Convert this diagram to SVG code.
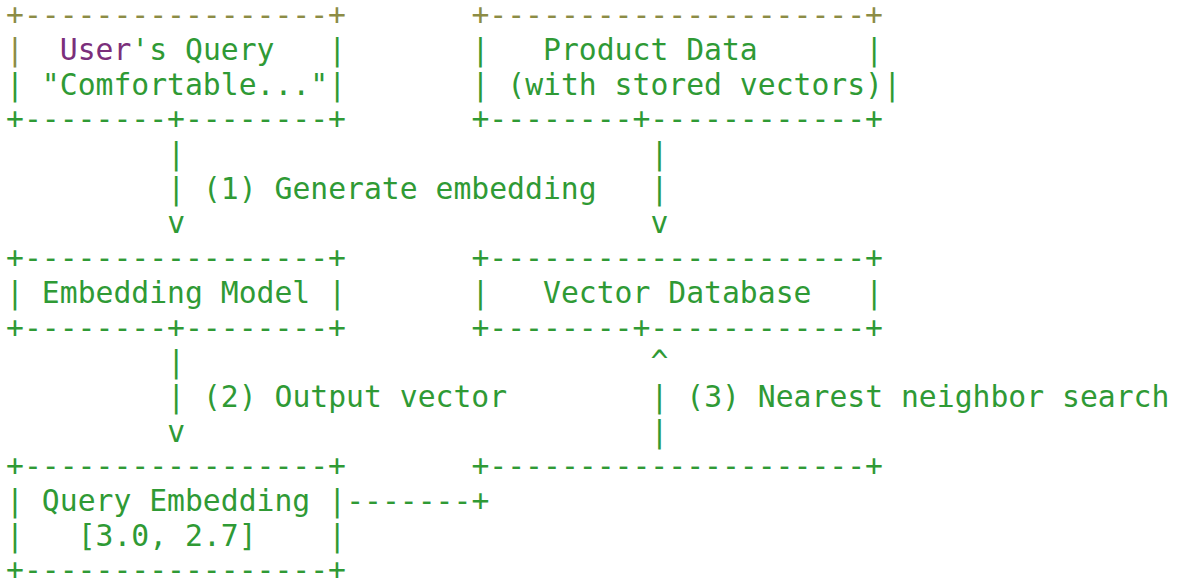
<svg xmlns="http://www.w3.org/2000/svg" width="1177" height="580" viewBox="0 0 1177 580">
<style>
text{font-family:"DejaVu Sans Mono","Liberation Mono",monospace;font-size:29.73px;fill:#2f9a35}
.o{fill:#8c8c45}
.p{fill:#7b2f7b}
</style>
<rect width="1177" height="580" fill="#ffffff"/>
<g id="user-query">
<text class="o" x="6.05" y="25.2">+-----------------+</text>
<text class="o" x="6.05" y="59.9">|</text>
<text class="p" x="59.75" y="59.9">User</text>
<text x="131.35" y="59.9">'s Query</text>
<text x="328.25" y="59.9">|</text>
<text x="6.05" y="94.6">|</text>
<text x="41.85" y="94.6">"Comfortable..."</text>
<text x="328.25" y="94.6">|</text>
<text x="6.05" y="129.3">+--------+--------+</text>
</g>
<g id="product-data">
<text class="o" x="471.45" y="25.2">+---------------------+</text>
<text x="471.45" y="59.9">|</text>
<text x="543.05" y="59.9">Product Data</text>
<text x="865.25" y="59.9">|</text>
<text x="471.45" y="94.6">|</text>
<text x="507.25" y="94.6">(with stored vectors)</text>
<text x="883.15" y="94.6">|</text>
<text x="471.45" y="129.3">+--------+------------+</text>
</g>
<g id="embedding-model">
<text x="6.05" y="268.1">+-----------------+</text>
<text x="6.05" y="302.8">|</text>
<text x="41.85" y="302.8">Embedding Model</text>
<text x="328.25" y="302.8">|</text>
<text x="6.05" y="337.5">+--------+--------+</text>
</g>
<g id="vector-database">
<text x="471.45" y="268.1">+---------------------+</text>
<text x="471.45" y="302.8">|</text>
<text x="543.05" y="302.8">Vector Database</text>
<text x="865.25" y="302.8">|</text>
<text x="471.45" y="337.5">+--------+------------+</text>
<text x="471.45" y="476.3">+---------------------+</text>
</g>
<g id="query-embedding">
<text x="6.05" y="476.3">+-----------------+</text>
<text x="6.05" y="511">|</text>
<text x="41.85" y="511">Query Embedding</text>
<text x="328.25" y="511">|</text>
<text x="6.05" y="545.7">|</text>
<text x="77.65" y="545.7">[3.0, 2.7]</text>
<text x="328.25" y="545.7">|</text>
<text x="6.05" y="579.5">+-----------------+</text>
</g>
<g id="connectors">
<text x="167.15" y="164">|</text>
<text x="167.15" y="198.7">|</text>
<text x="202.95" y="198.7">(1) Generate embedding</text>
<text x="167.15" y="233.4">v</text>
<text x="650.45" y="164">|</text>
<text x="650.45" y="198.7">|</text>
<text x="650.45" y="233.4">v</text>
<text x="167.15" y="372.2">|</text>
<text x="167.15" y="406.9">|</text>
<text x="202.95" y="406.9">(2) Output vector</text>
<text x="167.15" y="441.6">v</text>
<text x="650.45" y="372.2">^</text>
<text x="650.45" y="406.9">|</text>
<text x="686.25" y="406.9">(3) Nearest neighbor search</text>
<text x="650.45" y="441.6">|</text>
<text x="346.15" y="511">-------+</text>
</g>
</svg>
